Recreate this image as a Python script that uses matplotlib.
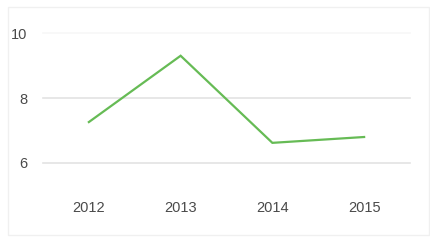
import matplotlib.pyplot as plt
from matplotlib.patches import Rectangle

years = ['2012', '2013', '2014', '2015']
values = [7.26, 9.3, 6.62, 6.8]
y_ticks = [6, 8, 10]

plt.rcParams['font.family'] = ['Liberation Sans', 'DejaVu Sans']

fig = plt.figure(figsize=(4.31, 2.43), dpi=100)
fig.patch.set_facecolor('white')

# faint card border around the chart
fig.patches.append(Rectangle((8 / 431, 8 / 243), 421 / 431, 228 / 243,
                             transform=fig.transFigure, fill=False,
                             edgecolor='#f0f0f0', linewidth=1))

ax = fig.add_axes([43 / 431, 80 / 243, 367 / 431, 130 / 243])

x = range(len(years))
ax.plot(x, values, color='#66bb55', linewidth=1.6, solid_joinstyle='miter')

ax.set_xlim(-0.5, len(years) - 0.5)
ax.set_ylim(6, 10)
ax.set_xticks(list(x))
ax.set_xticklabels(years)
ax.set_yticks(y_ticks)

for t in y_ticks:
    ax.axhline(t, color='#f7f7f7' if t == 10 else '#e3e3e3',
               linewidth=1.2, zorder=0, clip_on=False)

for s in ax.spines.values():
    s.set_visible(False)
ax.tick_params(axis='both', length=0, labelsize=10.5, colors='#4a4a4a')
ax.tick_params(axis='x', pad=27)
ax.tick_params(axis='y', pad=11)

fig.savefig('out.png', dpi=100)
